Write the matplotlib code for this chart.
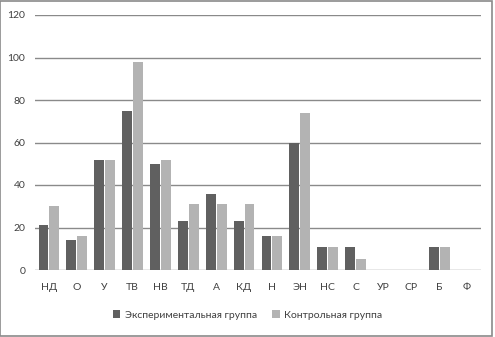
import numpy as np
import matplotlib
matplotlib.use("Agg")
import matplotlib.pyplot as plt
from matplotlib.patches import Rectangle

plt.rcParams['font.family'] = ['Lato', 'DejaVu Sans']

categories = ['НД', 'О', 'У', 'ТВ', 'НВ', 'ТД', 'А', 'КД', 'Н', 'ЭН', 'НС', 'С', 'УР', 'СР', 'Б', 'Ф']
experimental = [21, 14, 52, 75, 50, 23, 36, 23, 16, 60, 11, 11, 0, 0, 11, 0]
control = [30, 16, 52, 98, 52, 31, 31, 31, 16, 74, 11, 5, 0, 0, 11, 0]
series_names = ['Экспериментальная группа', 'Контрольная группа']
yticks = [0, 20, 40, 60, 80, 100, 120]

dark = '#606060'
light = '#b3b3b3'
text_col = '#404040'

fig = plt.figure(figsize=(4.95, 3.37), dpi=100)
fig.patches.append(Rectangle((0.001, 0.002), 0.993, 0.995, transform=fig.transFigure,
                             fill=False, edgecolor='#8a8a8a', linewidth=1.2))
ax = fig.add_axes([35/495, 67/337, 446/495, 255/337])

x = np.arange(len(categories))
w = 0.35
ax.bar(x - w/2 - 0.02, experimental, w, color=dark, label=series_names[0])
ax.bar(x + w/2 + 0.02, control, w, color=light, label=series_names[1])

ax.set_xlim(-0.5, len(categories) - 0.5)
ax.set_ylim(0, 120)
ax.set_yticks(yticks)
ax.set_xticks(x)
ax.set_xticklabels(categories)
ax.grid(axis='y', color='#8a8a8a', linewidth=1.0)
ax.set_axisbelow(True)
for s in ax.spines.values():
    s.set_visible(False)
ax.tick_params(axis='y', length=0, pad=7, labelsize=7.5, labelcolor=text_col)
ax.tick_params(axis='x', length=0, pad=9, labelsize=7.5, labelcolor=text_col)

fig.legend(loc='center', bbox_to_anchor=(0.5, 22/337), ncol=2, frameon=False,
           fontsize=7.5, handlelength=0.7, handleheight=0.7, handletextpad=0.4,
           columnspacing=1.5, labelcolor=text_col)

fig.savefig('out.png', dpi=100)
